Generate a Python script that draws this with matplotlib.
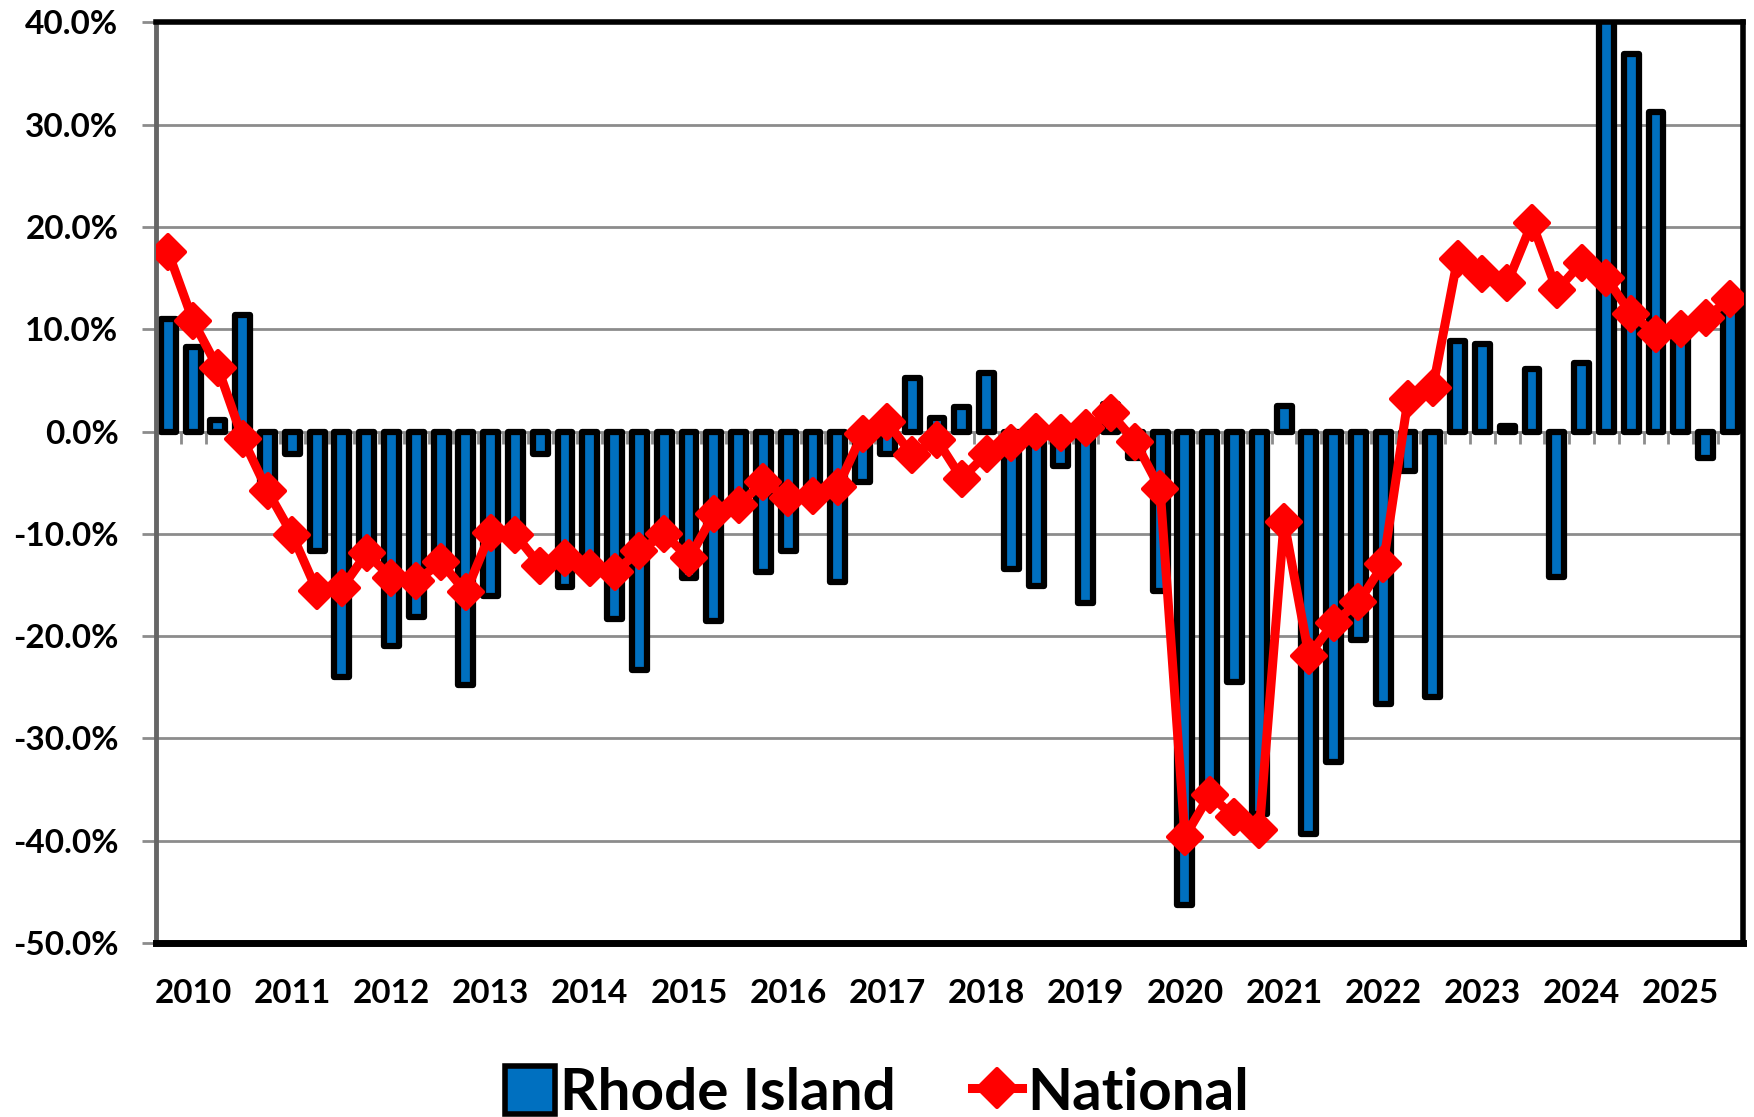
import numpy as np
import matplotlib
matplotlib.use('Agg')
import matplotlib.pyplot as plt
from matplotlib.markers import MarkerStyle
from matplotlib.patches import Patch
from matplotlib.lines import Line2D

plt.rcParams['font.family'] = ['Lato', 'DejaVu Sans']
plt.rcParams['font.weight'] = 'bold'

# quarterly % change, 2010 Q1 .. 2025 Q4
rhode_island = [11.0, 8.3, 1.1, 11.4, -5.5, -2.2, -11.7, -24.0,
                -11.5, -21.0, -18.1, -12.5, -24.8, -16.1, -10.0, -2.2,
                -15.2, -13.5, -18.3, -23.3, -9.2, -14.3, -18.5, -7.0,
                -13.7, -11.7, -6.0, -14.7, -4.9, -2.2, 5.2, 1.3,
                2.4, 5.7, -13.4, -15.1, -3.4, -16.8, 2.7, -2.6,
                -15.6, -46.3, -35.0, -24.5, -37.4, 2.5, -39.3, -32.3,
                -20.4, -26.6, -3.9, -26.0, 8.8, 8.6, 0.5, 6.1,
                -14.2, 6.7, 41.5, 36.9, 31.2, 9.5, -2.6, 12.5]
national = [17.5, 10.8, 6.2, -0.7, -5.8, -10.1, -15.6, -15.3,
            -11.9, -14.3, -14.6, -12.8, -15.7, -9.9, -10.1, -13.1,
            -12.4, -13.3, -13.7, -11.7, -10.0, -12.4, -8.1, -7.2,
            -4.9, -6.5, -6.3, -5.4, -0.2, 0.9, -2.3, -0.8,
            -4.6, -2.2, -1.1, 0.0, -0.1, 0.3, 1.8, -1.0,
            -5.6, -39.6, -35.5, -37.7, -39.0, -8.8, -21.9, -18.7,
            -16.7, -13.0, 3.2, 4.3, 16.9, 15.4, 14.5, 20.4,
            13.8, 16.5, 15.0, 11.5, 9.5, 10.0, 11.1, 13.0]
years = [str(y) for y in range(2010, 2026)]

blue = '#0070C0'
red = '#FF0000'
grid_gray = '#8c8c8c'

fig = plt.figure(figsize=(17.54, 11.17), dpi=100)
ax = fig.add_axes([0.0889, 0.1558, 0.9047, 0.8242])

x = np.arange(len(rhode_island))
ax.bar(x, rhode_island, width=0.6, color=blue, edgecolor='black',
       linewidth=4.5, joinstyle='round', zorder=2)
diamond = MarkerStyle('D', joinstyle='round')
ax.plot(x, national, color=red, lw=6.5, marker=diamond, ms=17, mew=3,
        mec=red, mfc=red, zorder=3)

# small category ticks hanging off the zero line
ax.vlines(np.arange(len(x) + 1) - 0.5, -1.2, 0, color=grid_gray, lw=2, zorder=1.5)

ax.set_xlim(-0.5, len(x) - 0.5)
ax.set_ylim(-50, 40)
yt = np.arange(-50, 41, 10)
ax.set_yticks(yt)
ax.set_yticklabels(['%.1f%%' % v for v in yt])
ax.set_xticks(x[1::4])
ax.set_xticklabels(years)
ax.tick_params(axis='x', length=0, pad=26, labelsize=24)
ax.tick_params(axis='y', length=10, width=2, color=grid_gray, pad=17, labelsize=24)
ax.grid(axis='y', color=grid_gray, lw=2)
ax.set_axisbelow(True)

for s in ['top', 'right', 'bottom']:
    ax.spines[s].set_color('black')
    ax.spines[s].set_linewidth(4)
ax.spines['bottom'].set_linewidth(5)
ax.spines['left'].set_color('#666666')
ax.spines['left'].set_linewidth(3.5)

handles = [Patch(facecolor=blue, edgecolor='black', linewidth=4),
           Line2D([], [], color=red, lw=6.5, marker=diamond, ms=19, mew=3, mec=red)]
fig.legend(handles, ['Rhode Island', 'National'], loc='lower center',
           bbox_to_anchor=(0.5, -0.05), ncol=2, frameon=False, fontsize=42,
           handlelength=0.85, handleheight=0.9, handletextpad=0.1,
           columnspacing=1.3)

fig.savefig('out.png', dpi=100)
